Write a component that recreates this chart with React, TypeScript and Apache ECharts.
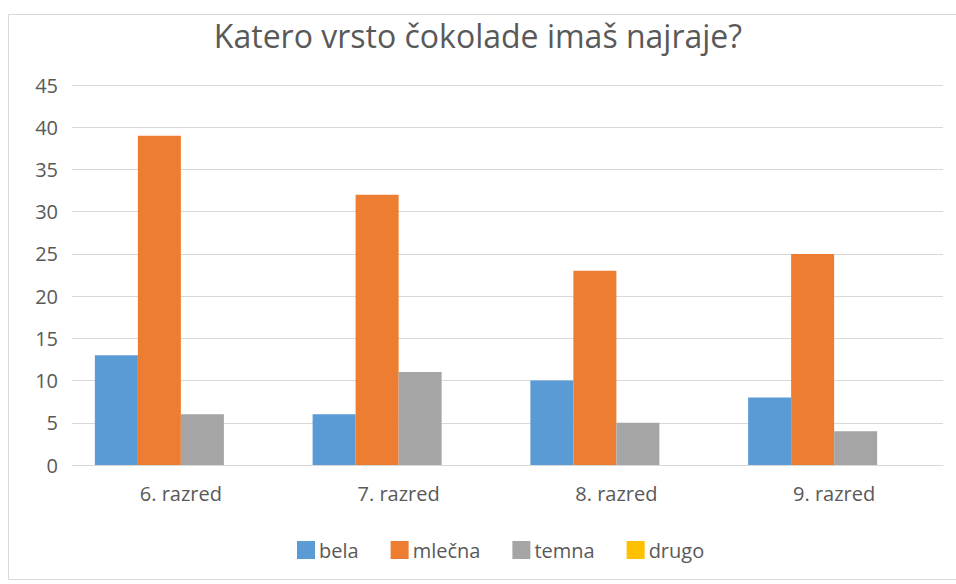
import React, { useEffect, useRef } from "react";
import * as echarts from "echarts";

const title = "Katero vrsto čokolade imaš najraje?";
const categories = ["6. razred", "7. razred", "8. razred", "9. razred"];
const seriesNames = ["bela", "mlečna", "temna", "drugo"];
const bela = [13, 6, 10, 8];
const mlecna = [39, 32, 23, 25];
const temna = [6, 11, 5, 4];
const drugo = [0, 0, 0, 0];
const colors = ["#5B9BD5", "#ED7D31", "#A5A5A5", "#FFC000"];

const FONT = "'Open Sans', sans-serif";

export default function App() {
  const ref = useRef<HTMLDivElement>(null);
  useEffect(() => {
    const chart = echarts.init(ref.current!, null, { renderer: "svg" });
    const values = [bela, mlecna, temna, drugo];
    chart.setOption({
      animation: false,
      backgroundColor: "#ffffff",
      color: colors,
      textStyle: { fontFamily: FONT },
      title: {
        text: title,
        left: "center",
        top: 14,
        textStyle: { fontFamily: FONT, fontSize: 32, fontWeight: "normal", color: "#595959" },
      },
      graphic: [
        {
          type: "rect",
          shape: { x: 8.5, y: 14.5, width: 960, height: 565 },
          style: { fill: "none", stroke: "#D9D9D9", lineWidth: 1 },
          silent: true,
        },
      ],
      legend: {
        data: seriesNames,
        left: 292,
        top: 535,
        itemWidth: 18,
        itemHeight: 18,
        itemGap: 32,
        icon: "rect",
        textStyle: { fontFamily: FONT, fontSize: 20, color: "#595959", padding: [0, 0, 0, -1] },
      },
      grid: { left: 72, right: 13, top: 85, bottom: 119 },
      xAxis: {
        type: "category",
        data: categories,
        axisLine: { show: true, lineStyle: { color: "#D9D9D9", width: 1 } },
        axisTick: { show: false },
        axisLabel: { fontFamily: FONT, fontSize: 20, color: "#595959", margin: 18 },
      },
      yAxis: {
        type: "value",
        min: 0,
        max: 45,
        interval: 5,
        axisLine: { show: false },
        axisTick: { show: false },
        axisLabel: { fontFamily: FONT, fontSize: 20, color: "#595959", margin: 14 },
        splitLine: { lineStyle: { color: "#D9D9D9", width: 1 } },
      },
      series: seriesNames.map((name, i) => ({
        name,
        type: "bar",
        data: values[i],
        barGap: "0%",
        barCategoryGap: "21%",
        itemStyle: { color: colors[i] },
      })),
    });
    return () => chart.dispose();
  }, []);
  return (
    <div
      ref={ref}
      style={{ position: "absolute", left: 0, top: 0, width: 956, height: 584 }}
    />
  );
}
